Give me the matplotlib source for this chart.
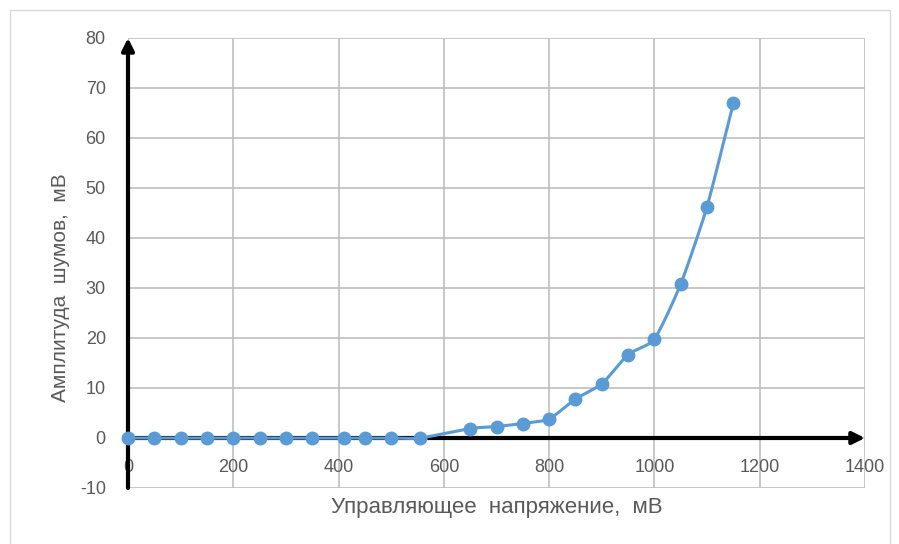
import matplotlib.pyplot as plt
import numpy as np
from matplotlib.patches import Rectangle

# data
voltage = [0, 50, 100, 150, 200, 250, 300, 350, 410, 450, 500, 555,
           650, 700, 750, 800, 850, 900, 950, 1000, 1050, 1100, 1150]
noise = [0, 0, 0, 0, 0, 0, 0, 0, 0, 0, 0, 0,
         1.9, 2.3, 2.9, 3.8, 7.8, 10.8, 16.7, 19.8, 30.8, 46.3, 67]

x_ticks = [0, 200, 400, 600, 800, 1000, 1200, 1400]
y_ticks = [-10, 0, 10, 20, 30, 40, 50, 60, 70, 80]

blue = "#5B9BD5"
text_color = "#595959"


def smooth(xs, ys, steps=20):
    # Catmull-Rom style smoothing for the drawn line (like Excel "smoothed line")
    xs = np.asarray(xs, float)
    ys = np.asarray(ys, float)
    px = np.concatenate([[xs[0]], xs, [xs[-1]]])
    py = np.concatenate([[ys[0]], ys, [ys[-1]]])
    out_x, out_y = [], []
    for i in range(1, len(px) - 2):
        t = np.linspace(0, 1, steps, endpoint=False)
        for p, out in ((px, out_x), (py, out_y)):
            p0, p1, p2, p3 = p[i - 1], p[i], p[i + 1], p[i + 2]
            m1 = (p2 - p0) / 2 * 0.6
            m2 = (p3 - p1) / 2 * 0.6
            h00 = 2 * t**3 - 3 * t**2 + 1
            h10 = t**3 - 2 * t**2 + t
            h01 = -2 * t**3 + 3 * t**2
            h11 = t**3 - t**2
            out.extend(h00 * p1 + h10 * m1 + h01 * p2 + h11 * m2)
    out_x.append(xs[-1])
    out_y.append(ys[-1])
    return out_x, out_y


plt.rcParams["font.family"] = ["Liberation Sans", "DejaVu Sans"]
plt.rcParams["axes.unicode_minus"] = False

fig = plt.figure(figsize=(8.99, 5.44), dpi=100)
fig.patches.append(Rectangle((10 / 899, -0.05), 880 / 899, 1.05 - 10 / 544,
                             transform=fig.transFigure, fill=False,
                             edgecolor="#D9D9D9", linewidth=1))
ax = fig.add_axes([128 / 899, 1 - 488 / 544, 737 / 899, 450 / 544])

ax.set_xlim(0, 1400)
ax.set_ylim(-10, 80)
ax.set_xticks(x_ticks)
ax.set_yticks(y_ticks)
ax.grid(True, color="#BFBFBF", linewidth=1.2)
ax.set_axisbelow(True)
for side in ["top", "right", "left"]:
    ax.spines[side].set_visible(False)
ax.spines["bottom"].set_position(("data", 0))
ax.spines["bottom"].set_visible(False)
ax.tick_params(length=0, colors=text_color, labelsize=13)
ax.tick_params(axis="x", pad=15)
ax.tick_params(axis="y", pad=16)

# axis arrows
ax.annotate("", xy=(1400, 0), xytext=(0, 0),
            arrowprops=dict(arrowstyle="-|>", color="black", lw=3,
                            mutation_scale=18, shrinkA=0, shrinkB=0),
            annotation_clip=False)
ax.annotate("", xy=(0, 80), xytext=(0, -10),
            arrowprops=dict(arrowstyle="-|>", color="black", lw=3,
                            mutation_scale=18, shrinkA=0, shrinkB=0),
            annotation_clip=False)

sx, sy = smooth(voltage, noise)
ax.plot(sx, sy, color=blue, linewidth=2.2, zorder=3, clip_on=False)
ax.plot(voltage, noise, "o", color=blue, markersize=9, zorder=4, clip_on=False)

fig.text(497 / 899, 1 - 508 / 544, "Управляющее  напряжение,  мВ",
         fontsize=16, color=text_color, ha="center", va="center")
fig.text(60 / 899, 1 - 288 / 544, "Амплитуда  шумов,  мВ",
         fontsize=15, color=text_color, ha="center", va="center", rotation=90)

fig.savefig("out.png", dpi=100)
